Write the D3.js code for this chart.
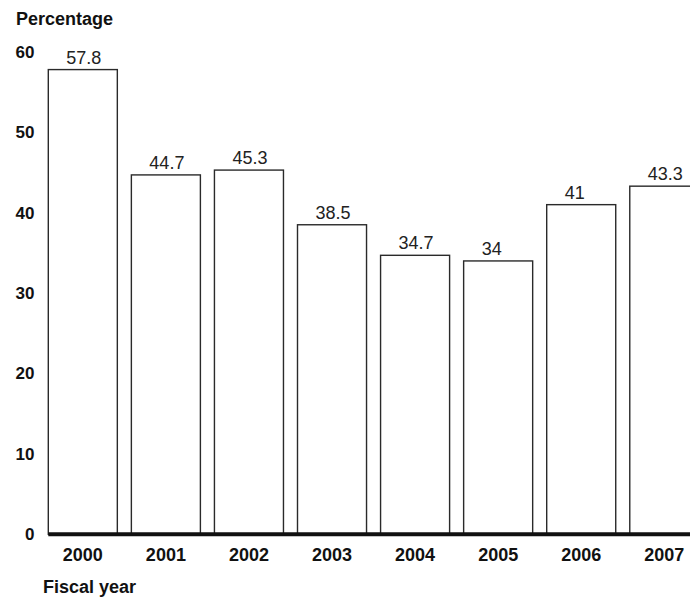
<!DOCTYPE html>
<html>
<head>
<meta charset="utf-8">
<script src="https://cdn.jsdelivr.net/npm/d3@7/dist/d3.min.js"></script>
<style>
  html, body { margin: 0; padding: 0; background: #fff; }
  svg { display: block; font-family: "Liberation Sans", Arial, sans-serif; }
</style>
</head>
<body>
<svg id="chart" width="690" height="597"></svg>
<script>
const years = ["2000", "2001", "2002", "2003", "2004", "2005", "2006", "2007"];
const percentages = [57.8, 44.7, 45.3, 38.5, 34.7, 34, 41, 43.3];
const yTicks = [0, 10, 20, 30, 40, 50, 60];

const svg = d3.select("#chart");

const x = d3.scaleBand()
  .domain(years)
  .range([48.3, 698.8])
  .paddingInner(0.169)
  .paddingOuter(0);

const y = d3.scaleLinear()
  .domain([0, 60])
  .range([534.3, 51.9]);

// Y axis labels (no line, no ticks)
const yAxis = d3.axisLeft(y).tickValues(yTicks).tickSize(0).tickPadding(0);
const gy = svg.append("g")
  .attr("transform", "translate(34.5,0)")
  .call(yAxis);
gy.select(".domain").remove();
gy.selectAll("text")
  .attr("font-family", "Liberation Sans, Arial, sans-serif")
  .attr("font-size", 17)
  .attr("font-weight", "bold")
  .attr("fill", "#111");

// Bars
svg.append("g").selectAll("rect")
  .data(percentages)
  .join("rect")
  .attr("x", (d, i) => x(years[i]))
  .attr("y", d => y(d))
  .attr("width", x.bandwidth())
  .attr("height", d => y(0) - y(d))
  .attr("fill", "#fff")
  .attr("stroke", "#2a2a2a")
  .attr("stroke-width", 1.4);

// Value labels
svg.append("g").selectAll("text")
  .data(percentages)
  .join("text")
  .attr("x", (d, i) => x(years[i]) + 18)
  .attr("y", d => y(d) - 6)
  .attr("font-size", 18)
  .attr("fill", "#222")
  .text(d => d);

// Baseline
svg.append("line")
  .attr("x1", x(years[0]))
  .attr("x2", 690)
  .attr("y1", y(0))
  .attr("y2", y(0))
  .attr("stroke", "#111")
  .attr("stroke-width", 4);

// X axis labels
const xAxis = d3.axisBottom(x).tickSize(0).tickPadding(0);
const gx = svg.append("g")
  .attr("transform", "translate(0,548)")
  .call(xAxis);
gx.select(".domain").remove();
gx.selectAll("text")
  .attr("font-family", "Liberation Sans, Arial, sans-serif")
  .attr("font-size", 18)
  .attr("font-weight", "bold")
  .attr("fill", "#111")
  .attr("dy", "0.71em");

// Axis titles
svg.append("text")
  .attr("x", 16)
  .attr("y", 25)
  .attr("font-size", 18)
  .attr("font-weight", "bold")
  .attr("fill", "#111")
  .text("Percentage");

svg.append("text")
  .attr("x", 43)
  .attr("y", 593)
  .attr("font-size", 18)
  .attr("font-weight", "bold")
  .attr("fill", "#111")
  .text("Fiscal year");
</script>
</body>
</html>
